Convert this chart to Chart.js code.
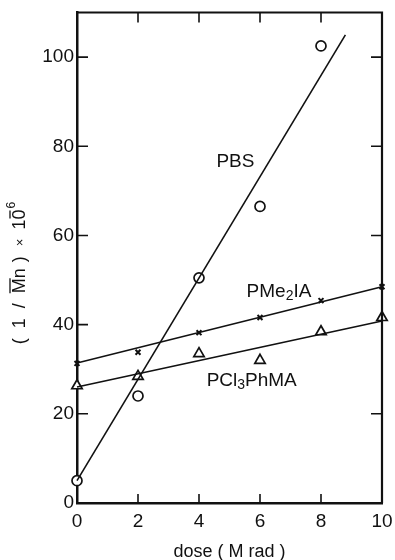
<!DOCTYPE html>
<html>
<head>
<meta charset="utf-8">
<script src="https://cdn.jsdelivr.net/npm/chart.js@4.4.1/dist/chart.umd.min.js"></script>
<style>
    html, body { margin: 0; padding: 0; background: #fff; }
    #wrap { width: 395px; height: 560px; position: relative; }
</style>
</head>
<body>
<div id="wrap"><canvas id="dose-chart" width="395" height="560"></canvas></div>
<script>
const doseTicks = [0, 2, 4, 6, 8, 10];
const valueTicks = [0, 20, 40, 60, 80, 100];

// PBS (circles)
const pbsDose = [0, 2, 4, 6, 8];
const pbsValue = [5, 24, 50.5, 66.5, 102.5];
const pbsFitDose = [0, 8.8];
const pbsFitValue = [5, 105];

// PMe2IA (crosses)
const pme2iaDose = [0, 2, 4, 6, 8, 10];
const pme2iaValue = [31.3, 33.8, 38.2, 41.6, 45.4, 48.5];
const pme2iaFitDose = [0, 10];
const pme2iaFitValue = [31.4, 48.5];

// PCl3PhMA (triangles)
const pclDose = [0, 2, 4, 6, 8, 10];
const pclValue = [26.3, 28.4, 33.5, 32, 38.4, 41.6];
const pclFitDose = [0, 10];
const pclFitValue = [26, 40.8];

const FONT = "'Liberation Sans', Arial, sans-serif";
const INK = "#111";

function toPoints(xs, ys) {
    return xs.map((x, i) => ({ x, y: ys[i] }));
}

function markerSet(xs, ys, style, radius, width) {
    return {
        data: toPoints(xs, ys),
        showLine: false,
        pointStyle: style,
        pointRadius: radius,
        pointBackgroundColor: "#fff",
        pointBorderColor: INK,
        pointBorderWidth: width,
        clip: false,
    };
}

function fitSet(xs, ys) {
    return {
        data: toPoints(xs, ys),
        showLine: true,
        borderColor: INK,
        borderWidth: 1.6,
        pointRadius: 0,
        clip: false,
    };
}

// text with a subscript part, anchored at a data coordinate
function drawSubLabel(ctx, parts, x, y) {
    let cx = x;
    parts.forEach(([text, sub]) => {
        ctx.font = sub ? `14px ${FONT}` : `19px ${FONT}`;
        ctx.fillText(text, cx, sub ? y + 5 : y);
        cx += ctx.measureText(text).width;
    });
}

function drawYTitle(ctx) {
    // pieces of "( 1 / Mn ) x 10^-6" with the gap after each
    const pieces = [
        ["(", 10], ["1", 10], ["/", 10], ["Mn", 6], [")", 10], ["\u00d7", 9], ["10", 1],
    ];
    ctx.save();
    ctx.translate(20, 273);
    ctx.rotate(-Math.PI / 2);
    ctx.textBaseline = "middle";
    ctx.textAlign = "left";
    ctx.fillStyle = INK;
    ctx.strokeStyle = INK;
    ctx.lineWidth = 1.3;

    const widthOf = (text) => {
        ctx.font = text === "\u00d7" ? `13px ${FONT}` : `18px ${FONT}`;
        return ctx.measureText(text).width;
    };
    ctx.font = `12px ${FONT}`;
    const supW = ctx.measureText("6").width;
    const total = pieces.reduce((w, [t, g]) => w + widthOf(t) + g, 0) + supW;

    let cx = -total / 2;
    pieces.forEach(([text, gap]) => {
        const w = widthOf(text);
        ctx.fillText(text, cx, 0);
        if (text === "Mn") {
            ctx.beginPath();
            ctx.moveTo(cx, -10);
            ctx.lineTo(cx + ctx.measureText("M").width, -10);
            ctx.stroke();
        }
        if (text === "10") {
            const zx = cx + ctx.measureText("1").width;
            ctx.beginPath();
            ctx.moveTo(zx + 1, -10);
            ctx.lineTo(zx + ctx.measureText("0").width - 1, -10);
            ctx.stroke();
        }
        cx += w + gap;
    });
    ctx.font = `12px ${FONT}`;
    ctx.fillText("6", cx, -8);
    ctx.restore();
}

const framePlugin = {
    id: "frame",
    afterDraw(chart) {
        const { ctx, chartArea: a, scales } = chart;
        const xs = scales.x;
        const ys = scales.y;
        ctx.save();
        ctx.strokeStyle = INK;

        // top and right border
        ctx.lineWidth = 2.2;
        ctx.beginPath();
        ctx.moveTo(a.left, a.top);
        ctx.lineTo(a.right, a.top);
        ctx.lineTo(a.right, a.bottom);
        ctx.stroke();

        // inward tick marks
        ctx.lineWidth = 1.6;
        ctx.beginPath();
        doseTicks.slice(1, -1).forEach((v) => {
            const px = xs.getPixelForValue(v);
            ctx.moveTo(px, a.bottom);
            ctx.lineTo(px, a.bottom - 9);
            ctx.moveTo(px, a.top);
            ctx.lineTo(px, a.top + 10);
        });
        valueTicks.slice(1).forEach((v) => {
            const py = ys.getPixelForValue(v);
            ctx.moveTo(a.left, py);
            ctx.lineTo(a.left + 11, py);
            if (v !== 40) {
                ctx.moveTo(a.right, py);
                ctx.lineTo(a.right - 11, py);
            }
        });
        ctx.stroke();

        // series labels
        ctx.fillStyle = INK;
        ctx.textBaseline = "middle";
        ctx.textAlign = "left";
        drawSubLabel(ctx, [["PBS"]], xs.getPixelForValue(4.57), ys.getPixelForValue(76.5));
        drawSubLabel(ctx, [["PMe"], ["2", true], ["IA"]], xs.getPixelForValue(5.56), ys.getPixelForValue(47.4));
        drawSubLabel(ctx, [["PCl"], ["3", true], ["PhMA"]], xs.getPixelForValue(4.25), ys.getPixelForValue(27.5));
        ctx.restore();

        drawYTitle(ctx);
    },
};

const ctx = document.getElementById("dose-chart");

new Chart(ctx, {
    type: "scatter",
    data: {
        datasets: [
            fitSet(pbsFitDose, pbsFitValue),
            fitSet(pme2iaFitDose, pme2iaFitValue),
            fitSet(pclFitDose, pclFitValue),
            markerSet(pbsDose, pbsValue, "circle", 5, 1.7),
            markerSet(pme2iaDose, pme2iaValue, "crossRot", 3.5, 2),
            markerSet(pclDose, pclValue, "triangle", 6, 1.7),
        ],
    },
    options: {
        responsive: false,
        animation: false,
        devicePixelRatio: 1,
        layout: { padding: { top: 12, right: 13, left: 0, bottom: 0 } },
        plugins: {
            legend: { display: false },
            tooltip: { enabled: false },
        },
        scales: {
            x: {
                type: "linear",
                min: 0,
                max: 10,
                afterBuildTicks: (scale) => {
                    scale.ticks = doseTicks.map((value) => ({ value }));
                },
                afterFit: (scale) => { scale.height = 57; },
                grid: { display: false, drawTicks: false },
                border: { display: true, color: INK, width: 2.5 },
                ticks: {
                    color: INK,
                    padding: 2,
                    maxRotation: 0,
                    font: { family: FONT, size: 19, lineHeight: 1.8 },
                },
                title: {
                    display: true,
                    text: "dose ( M rad )",
                    color: INK,
                    padding: { top: 6, bottom: -1 },
                    font: { family: FONT, size: 18, lineHeight: 1 },
                },
            },
            y: {
                type: "linear",
                min: 0,
                max: 110,
                afterBuildTicks: (scale) => {
                    scale.ticks = valueTicks.map((value) => ({ value }));
                },
                afterFit: (scale) => { scale.width = 77; },
                grid: { display: false, drawTicks: false },
                border: { display: true, color: INK, width: 2.5 },
                ticks: {
                    color: INK,
                    padding: 3,
                    font: { family: FONT, size: 19, lineHeight: 1 },
                },
            },
        },
    },
    plugins: [framePlugin],
});
</script>
</body>
</html>
